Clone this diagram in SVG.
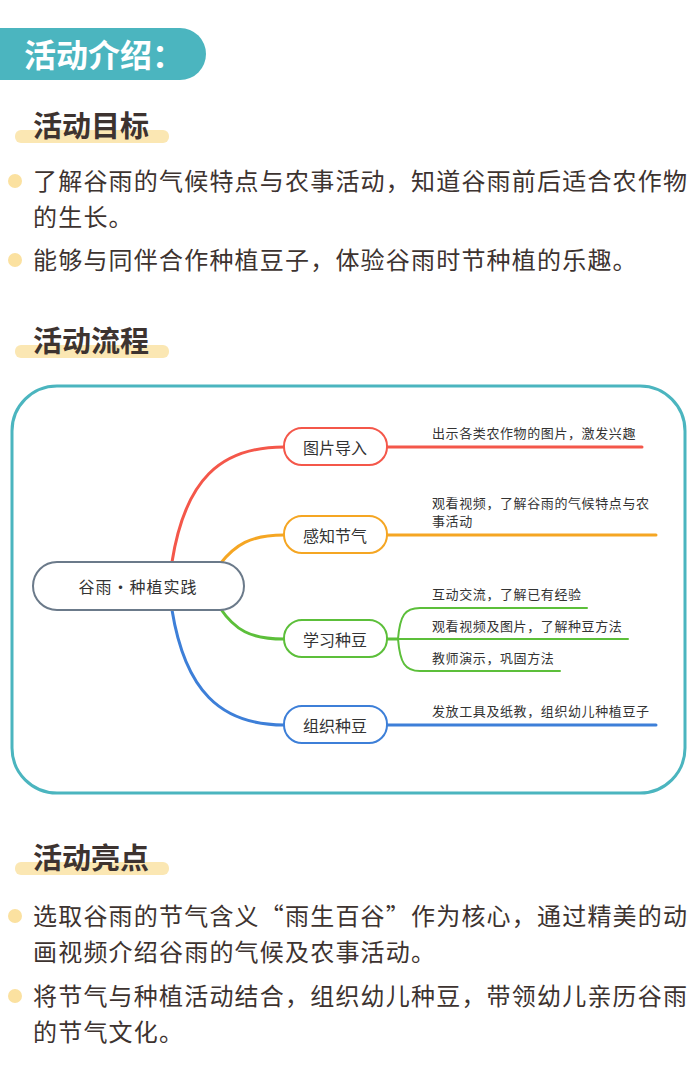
<svg xmlns="http://www.w3.org/2000/svg" width="700" height="1076" viewBox="0 0 700 1076">
<style>
.h{font-family:"Noto Sans CJK SC",sans-serif;font-weight:bold;font-size:29px;fill:#3d3330}
.b{font-family:"Noto Sans CJK SC",sans-serif;font-size:24px;letter-spacing:1.2px;fill:#3d3330}
.n{font-family:"Noto Sans CJK SC",sans-serif;font-size:16px;fill:#333;text-anchor:middle;dominant-baseline:central}
.s{font-family:"Noto Sans CJK SC",sans-serif;font-size:13px;letter-spacing:0.6px;fill:#333}
.bar{fill:#fbe7b3}
.dot{fill:#fbe1a0}
.node{fill:#fff;stroke-width:2}
</style>
<rect width="700" height="1076" fill="#fff"/>
<path d="M0 28 H180 A26 26 0 0 1 180 80 H0 Z" fill="#4bb5bf"/>
<text x="24" y="67" font-family="Noto Sans CJK SC,sans-serif" font-weight="bold" font-size="32" fill="#fff">活动介绍：</text>

<rect class="bar" x="15" y="130" width="154" height="13" rx="6"/>
<text class="h" x="33" y="137">活动目标</text>
<circle class="dot" cx="15" cy="181" r="7"/>
<text class="b" x="33" y="190">了解谷雨的气候特点与农事活动，知道谷雨前后适合农作物</text>
<text class="b" x="33" y="226">的生长。</text>
<circle class="dot" cx="15" cy="260" r="7"/>
<text class="b" x="33" y="269">能够与同伴合作种植豆子，体验谷雨时节种植的乐趣。</text>

<rect class="bar" x="15" y="345" width="154" height="13" rx="6"/>
<text class="h" x="33" y="352">活动流程</text>

<rect x="12" y="386" width="673" height="407" rx="45" fill="#fff" stroke="#4bb5bf" stroke-width="3"/>

<g id="connectors" fill="none" stroke-linecap="round">
<path d="M172 562 C185 480 220 447 284 447 M387 447 H642" stroke="#f4574a" stroke-width="3"/>
<path d="M220 564 C235 545 250 535 284 535 M387 535 H656" stroke="#f5a623" stroke-width="3"/>
<path d="M220 608 C235 630 250 639 284 639 M387 639 H398" stroke="#5cbf3a" stroke-width="3"/>
<path d="M398 639 C400 615 405 608 420 608 H587 M398 639 H628 M398 639 C400 663 405 671 420 671 H560" stroke="#5cbf3a" stroke-width="2"/>
<path d="M172 610 C185 690 220 725 284 725 M387 725 H656" stroke="#3d7fd8" stroke-width="3"/>
</g>

<g id="center"><rect class="node" x="33" y="562" width="211" height="48" rx="24" stroke="#6b7a8a"/><text class="n" x="138" y="586" font-size="21" letter-spacing="1">谷雨・种植实践</text></g>
<g id="n1"><rect class="node" x="284" y="428" width="103" height="37" rx="18" stroke="#f4574a"/><text class="n" x="335" y="447">图片导入</text></g>
<g id="n2"><rect class="node" x="284" y="516" width="103" height="37" rx="18" stroke="#f5a623"/><text class="n" x="335" y="535">感知节气</text></g>
<g id="n3"><rect class="node" x="284" y="620" width="103" height="37" rx="18" stroke="#5cbf3a"/><text class="n" x="335" y="639">学习种豆</text></g>
<g id="n4"><rect class="node" x="284" y="706" width="103" height="37" rx="18" stroke="#3d7fd8"/><text class="n" x="335" y="725">组织种豆</text></g>

<text class="s" x="432" y="438">出示各类农作物的图片，激发兴趣</text>
<text class="s" x="432" y="508">观看视频，了解谷雨的气候特点与农</text>
<text class="s" x="432" y="526">事活动</text>
<text class="s" x="432" y="599">互动交流，了解已有经验</text>
<text class="s" x="432" y="631">观看视频及图片，了解种豆方法</text>
<text class="s" x="432" y="663">教师演示，巩固方法</text>
<text class="s" x="432" y="716">发放工具及纸教，组织幼儿种植豆子</text>

<rect class="bar" x="15" y="862" width="154" height="13" rx="6"/>
<text class="h" x="33" y="869">活动亮点</text>
<circle class="dot" cx="15" cy="916" r="7"/>
<text class="b" x="33" y="925">选取谷雨的节气含义“雨生百谷”作为核心，通过精美的动</text>
<text class="b" x="33" y="961">画视频介绍谷雨的气候及农事活动。</text>
<circle class="dot" cx="15" cy="996" r="7"/>
<text class="b" x="33" y="1005">将节气与种植活动结合，组织幼儿种豆，带领幼儿亲历谷雨</text>
<text class="b" x="33" y="1041">的节气文化。</text>
</svg>
